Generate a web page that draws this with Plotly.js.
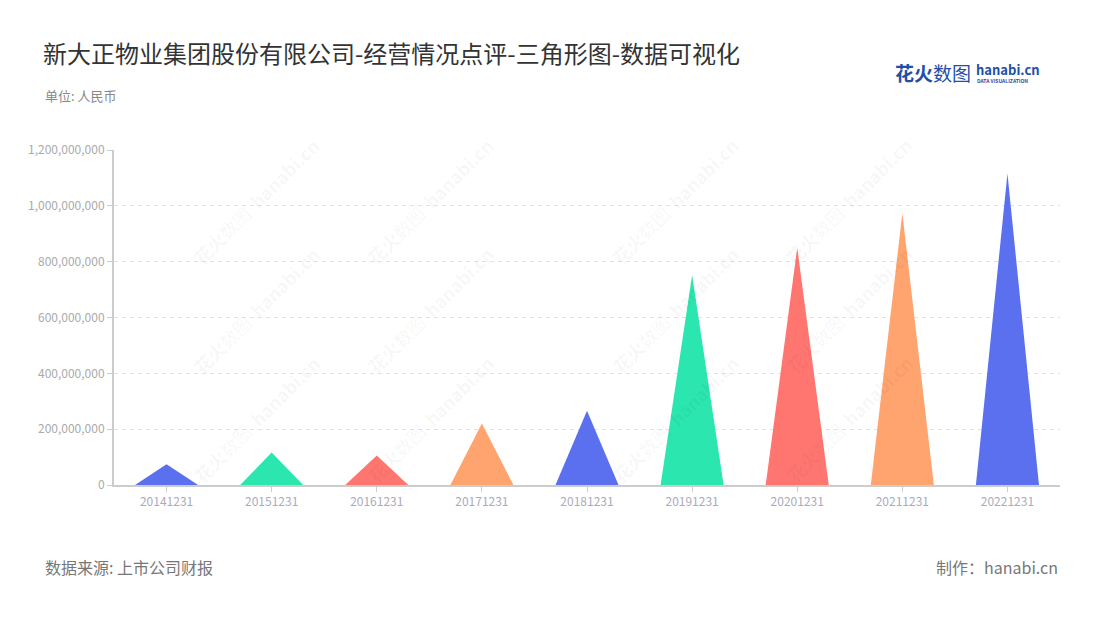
<!DOCTYPE html>
<html>
<head>
<meta charset="utf-8">
<script src="https://cdn.plot.ly/plotly-3.0.1.min.js"></script>
<style>html,body{margin:0;padding:0;background:#fff;}#chart{width:1100px;height:620px;}</style>
</head>
<body>
<div id="chart"></div>
<script>
const categories = ["20141231","20151231","20161231","20171231","20181231","20191231","20201231","20211231","20221231"];
const values = [74000000, 116000000, 106000000, 220000000, 266000000, 752000000, 850000000, 973000000, 1116000000];
const palette = ["#5A70EE", "#2CE6AF", "#FF7670", "#FFA36F"];
const yTicks = [0, 200000000, 400000000, 600000000, 800000000, 1000000000, 1200000000];

const FONT = '"Noto Sans CJK SC", "Noto Sans", sans-serif';
const halfWidth = 0.3;

const traces = categories.map((c, i) => ({
  type: 'scatter',
  mode: 'lines',
  x: [i - halfWidth, i, i + halfWidth, i - halfWidth],
  y: [0, values[i], 0, 0],
  fill: 'toself',
  fillcolor: palette[i % palette.length],
  line: {width: 0, color: palette[i % palette.length]},
  hoverinfo: 'skip',
  name: c,
  showlegend: false
}));

const annotations = [];
// watermarks
const wmX = [185, 430, 675, 920];
const wmY = [130, 310, 490];
wmX.forEach(x => wmY.forEach(y => {
  annotations.push({
    xref: 'paper', yref: 'paper',
    x: (x - 114) / 946, y: (485 - y) / 335,
    text: '<b>花火</b>数图  <b>hanabi.cn</b>', showarrow: false, textangle: -45,
    font: {family: FONT, size: 18, color: 'rgba(0,0,0,0.045)'}
  });
}));

const layout = {
  width: 1100, height: 620,
  paper_bgcolor: '#fff', plot_bgcolor: '#fff',
  margin: {l: 114, r: 40, t: 150, b: 135},
  font: {family: FONT},
  title: {
    text: '新大正物业集团股份有限公司-经营情况点评-三角形图-数据可视化',
    x: 43 / 1100, xanchor: 'left', xref: 'container',
    y: 1 - 55 / 620, yanchor: 'middle', yref: 'container',
    font: {family: FONT, size: 24, color: '#333'}
  },
  xaxis: {
    range: [-0.5, 8.5],
    tickvals: categories.map((c, i) => i),
    ticktext: categories,
    showgrid: false, zeroline: false,
    showline: true, linecolor: '#ccc', linewidth: 2,
    ticks: 'outside', ticklen: 5, tickcolor: '#ccc',
    tickfont: {family: FONT, size: 12, color: '#aab'}
  },
  yaxis: {
    range: [0, 1200000000],
    tickvals: yTicks,
    tickformat: ',d',
    showgrid: true, gridcolor: '#e2e2e2', griddash: '4px,4px', gridwidth: 1,
    zeroline: false,
    showline: true, linecolor: '#ccc', linewidth: 2,
    ticks: 'outside', ticklen: 5, tickcolor: '#ccc',
    tickfont: {family: FONT, size: 12, color: '#aaa'}
  },
  annotations: annotations.concat([
    {xref: 'paper', yref: 'paper', x: -71 / 946, y: (485 - 96) / 335, xanchor: 'left', yanchor: 'middle',
     text: '单位: 人民币', showarrow: false, font: {family: FONT, size: 13, color: '#888'}},
    {xref: 'paper', yref: 'paper', x: -71 / 946, y: (485 - 567) / 335, xanchor: 'left', yanchor: 'middle',
     text: '数据来源: 上市公司财报', showarrow: false, font: {family: FONT, size: 16, color: '#777'}},
    {xref: 'paper', yref: 'paper', x: 1, y: (485 - 567) / 335, xanchor: 'right', yanchor: 'middle',
     text: '制作：hanabi.cn', showarrow: false, font: {family: FONT, size: 16, color: '#777'}},
    {xref: 'paper', yref: 'paper', x: (893 - 114) / 946, y: (485 - 73) / 335, xanchor: 'left', yanchor: 'middle',
     text: '<b>花火</b>数图', showarrow: false, font: {family: FONT, size: 19, color: '#1F4FA8'}},
    {xref: 'paper', yref: 'paper', x: (974 - 114) / 946, y: (485 - 69) / 335, xanchor: 'left', yanchor: 'middle',
     text: '<b>hanabi.cn</b>', showarrow: false, font: {family: FONT, size: 13, color: '#1F4FA8'}},
    {xref: 'paper', yref: 'paper', x: (975 - 114) / 946, y: (485 - 80) / 335, xanchor: 'left', yanchor: 'middle',
     text: '<b>DATA VISUALIZATION</b>', showarrow: false, font: {family: FONT, size: 5, color: '#1F4FA8'}}
  ])
};

Plotly.newPlot('chart', traces, layout, {displayModeBar: false, staticPlot: true});
</script>
</body>
</html>
